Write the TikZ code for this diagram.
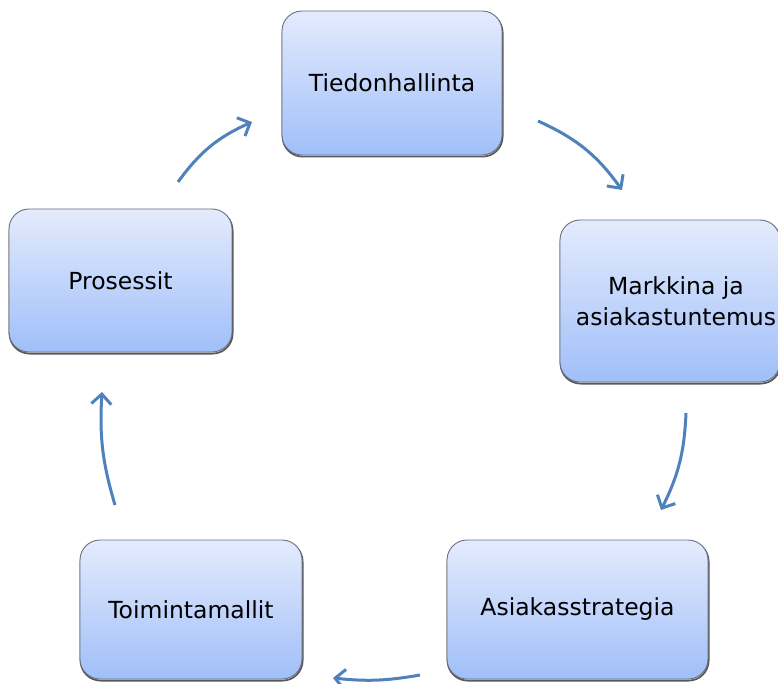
\documentclass[tikz,border=0pt]{standalone}
\usepackage{fontspec}
\setmainfont{DejaVu Sans}
\usetikzlibrary{arrows.meta}
\definecolor{boxtop}{RGB}{228,235,253}
\definecolor{boxbot}{RGB}{160,191,249}
\definecolor{boxline}{RGB}{105,112,128}
\definecolor{arrowblue}{RGB}{79,129,189}
\tikzset{
  box/.style={rectangle, rounded corners=20pt, top color=boxtop, bottom color=boxbot,
    draw=boxline, line width=0.9pt, align=center, inner sep=0pt,
    font=\fontsize{23.5}{31}\selectfont,
    preaction={draw=black!65, line width=1.8pt, transform canvas={xshift=0.6pt,yshift=-1.6pt}}},
  cyc/.style={draw=arrowblue, line width=3pt, -{Straight Barb[length=10pt,width=20pt]}},
}
\begin{document}
\begin{tikzpicture}[x=1pt,y=-1pt]
\useasboundingbox (0,0) rectangle (778,684);
\node[box, minimum width=220pt, minimum height=144pt] (tied) at (392,83) {Tiedonhallinta};
\node[box, minimum width=220pt, minimum height=162pt] (mark) at (670,301) {\hspace*{12pt}Markkina ja\\\hspace*{12pt}asiakastuntemus};
\node[box, minimum width=261pt, minimum height=139pt] (asia) at (577.5,609.5) {Asiakasstrategia};
\node[box, minimum width=222pt, minimum height=139pt] (toim) at (191,609.5) {Toimintamallit};
\node[box, minimum width=223pt, minimum height=143pt] (pros) at (120.5,280.5) {Prosessit};
\coordinate (a1s) at (178,182); \coordinate (a1e) at (252,122);
\coordinate (a2s) at (538,121); \coordinate (a2e) at (622,190);
\coordinate (a3s) at (686,413); \coordinate (a3e) at (661,510);
\coordinate (a4s) at (420,675); \coordinate (a4e) at (333,678);
\coordinate (a5s) at (115,505); \coordinate (a5e) at (102,392);
\draw[cyc] (a1s) to[bend left=15] (a1e);
\draw[cyc] (a2s) to[bend left=15] (a2e);
\draw[cyc] (a3s) to[bend left=12] (a3e);
\draw[cyc] (a4s) to[bend left=8] (a4e);
\draw[cyc] (a5s) to[bend left=10] (a5e);
\end{tikzpicture}
\end{document}
